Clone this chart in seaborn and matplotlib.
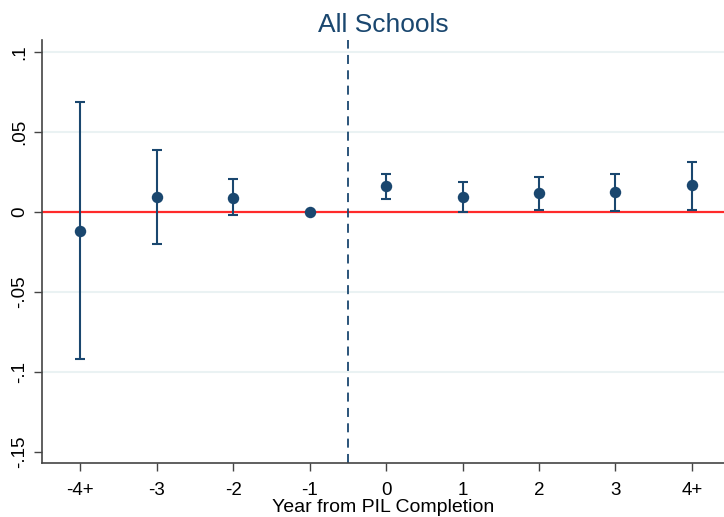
import numpy as np
import pandas as pd
import matplotlib
matplotlib.use("Agg")
import matplotlib.pyplot as plt
import seaborn as sns

categories = ["-4+", "-3", "-2", "-1", "0", "1", "2", "3", "4+"]
estimates = [-0.012, 0.0095, 0.009, 0.0, 0.016, 0.0095, 0.012, 0.0125, 0.0167]
ci_low = [-0.092, -0.020, -0.002, 0.0, 0.008, 0.0, 0.001, 0.0006, 0.0014]
ci_high = [0.069, 0.039, 0.0205, 0.0, 0.024, 0.019, 0.022, 0.0238, 0.0315]
yticks = [0.1, 0.05, 0, -0.05, -0.1, -0.15]
ytick_labels = [".1", ".05", "0", "-.05", "-.1", "-.15"]

sns.set_theme(style="white")
plt.rcParams["font.family"] = ["Liberation Sans", "DejaVu Sans"]

navy = "#1a476f"
df = pd.DataFrame({"cat": categories, "x": np.arange(len(categories)),
                   "est": estimates, "lo": ci_low, "hi": ci_high})

fig = plt.figure(figsize=(7.24, 5.17), dpi=100)
ax = fig.add_axes([0.058, 0.1044, 0.942, 0.818])

for y in [0.1, 0.05, -0.05, -0.1]:
    ax.axhline(y, color="#eaf2f3", lw=1.5, zorder=0)
ax.axhline(0, color="#ff2a2a", lw=1.6, zorder=1)
ax.axvline(3.5, color=navy, lw=1.3, ls=(0, (5, 3.5)), zorder=1)

mask = df["hi"] > df["lo"]
ax.errorbar(df.loc[mask, "x"], df.loc[mask, "est"],
            yerr=[df.loc[mask, "est"] - df.loc[mask, "lo"], df.loc[mask, "hi"] - df.loc[mask, "est"]],
            fmt="none", ecolor=navy, elinewidth=1.5, capsize=3.6, capthick=1.5, zorder=2)
sns.scatterplot(data=df, x="x", y="est", color=navy, s=68, edgecolor=navy,
                linewidth=0, ax=ax, zorder=3, legend=False)

ax.set_xlim(-0.5, 8.42)
ax.set_ylim(-0.1569, 0.1075)
ax.set_xticks(df["x"])
ax.set_xticklabels(categories, fontsize=13.5)
ax.set_yticks(yticks)
ax.set_yticklabels(ytick_labels, fontsize=13.5, rotation=90, va="center")
ax.set_xlabel("Year from PIL Completion", fontsize=14, labelpad=0, color="black")
ax.set_ylabel("")
ax.set_title("All Schools", fontsize=19, color=navy, pad=6)

for s in ["top", "right"]:
    ax.spines[s].set_visible(False)
for s in ["left", "bottom"]:
    ax.spines[s].set_color("#444444")
    ax.spines[s].set_linewidth(1.2)
ax.tick_params(axis="both", which="both", length=6, width=1, color="#444444",
               bottom=True, left=True, labelcolor="black", pad=4)
ax.tick_params(axis="x", pad=8)

fig.savefig("out.png", dpi=100)
